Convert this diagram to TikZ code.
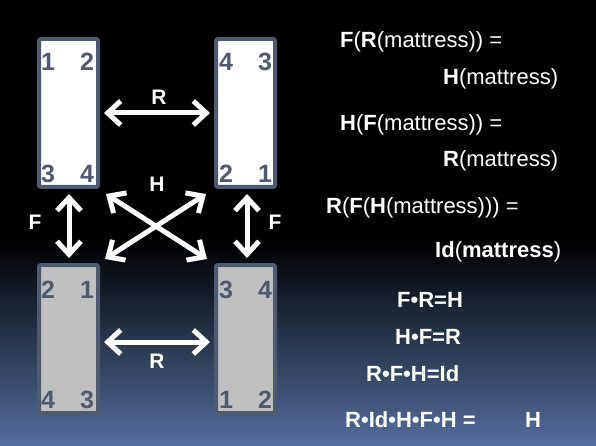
\documentclass[tikz,border=0pt]{standalone}
\usepackage{fontspec}
\setmainfont{Liberation Sans}
\usetikzlibrary{arrows.meta}
\definecolor{slate}{HTML}{4F5A6E}
\definecolor{bgblue}{HTML}{536E9E}
\definecolor{boxgrey}{HTML}{C0C0C0}
\begin{document}
\begin{tikzpicture}[x=1pt,y=-1pt,
  box/.style={draw=slate, line width=4pt, rounded corners=2pt, minimum width=59pt, minimum height=148pt, inner sep=0pt},
  num/.style={text=slate, font=\fontsize{25}{25}\selectfont\bfseries, inner sep=0pt},
  dbl/.style={draw=white, line width=5pt, {Straight Barb[length=13pt,width=24pt]}-{Straight Barb[length=13pt,width=24pt]}, line cap=round, line join=round},
  lbl/.style={text=white, font=\fontsize{21}{21}\selectfont\bfseries, inner sep=0pt},
  eq/.style={text=white, font=\fontsize{22}{22}\selectfont, anchor=base west, inner sep=0pt}]
\useasboundingbox (0,0) rectangle (596,446);
\fill[black] (0,0) rectangle (596,446);
\shade[top color=black, bottom color=bgblue] (0,240) rectangle (596,446);
% boxes
\node[box, fill=white] (tl) at (68.5,113) {};
\node[box, fill=white] (tr) at (245.5,113) {};
\node[box, fill=boxgrey] (bl) at (68.5,339) {};
\node[box, fill=boxgrey] (br) at (245.5,339) {};
% digits
\node[num] (tl1) at (48,62) {1};
\node[num] (tl2) at (87,62) {2};
\node[num] (tl3) at (48,174) {3};
\node[num] (tl4) at (87,174) {4};
\node[num] (tr4) at (226,62) {4};
\node[num] (tr3) at (265,62) {3};
\node[num] (tr2) at (226,174) {2};
\node[num] (tr1) at (265,174) {1};
\node[num] (bl2) at (48,290) {2};
\node[num] (bl1) at (87,290) {1};
\node[num] (bl4) at (48,400) {4};
\node[num] (bl3) at (87,400) {3};
\node[num] (br3) at (226,290) {3};
\node[num] (br4) at (265,290) {4};
\node[num] (br1) at (226,400) {1};
\node[num] (br2) at (265,400) {2};
% arrows
\draw[dbl] ([shift={(4,0)}]tl.east) -- ([shift={(-4,0)}]tr.west);
\draw[dbl] ([shift={(4,3)}]bl.east) -- ([shift={(-4,3)}]br.west);
\draw[dbl] ([shift={(0.5,5)}]tl.south) -- ([shift={(0.5,-5)}]bl.north);
\draw[dbl] ([shift={(1.5,5)}]tr.south) -- ([shift={(1.5,-5)}]br.north);
\draw[dbl] ([shift={(6,5)}]tl.south east) -- ([shift={(-7,-4)}]br.north west);
\draw[dbl] ([shift={(-8,5)}]tr.south west) -- ([shift={(5,-4)}]bl.north east);
% arrow labels
\node[lbl] (lr1) at (159,97) {R};
\node[lbl] (lh) at (157,184) {H};
\node[lbl] (lr2) at (157,361) {R};
\node[lbl] (lf1) at (35,222) {F};
\node[lbl] (lf2) at (275,222) {F};
% equations
\node[eq] (e1) at (340,48) {\textbf{F}(\textbf{R}(mattress)) =};
\node[eq] (e2) at (443,85) {\textbf{H}(mattress)};
\node[eq] (e3) at (340,131) {\textbf{H}(\textbf{F}(mattress)) =};
\node[eq] (e4) at (443,167) {\textbf{R}(mattress)};
\node[eq] (e5) at (326,214) {\textbf{R}(\textbf{F}(\textbf{H}(mattress))) =};
\node[eq] (e6) at (435,257) {\textbf{Id}(\textbf{mattress})};
\node[eq] (e7) at (397,307) {\textbf{F•R=H}};
\node[eq] (e8) at (395,344) {\textbf{H•F=R}};
\node[eq] (e9) at (366,381) {\textbf{R•F•H=Id}};
\node[eq] (e10) at (345,427) {\textbf{R•Id•H•F•H =}};
\node[eq] (e11) at (525,427) {\textbf{H}};
\end{tikzpicture}
\end{document}
